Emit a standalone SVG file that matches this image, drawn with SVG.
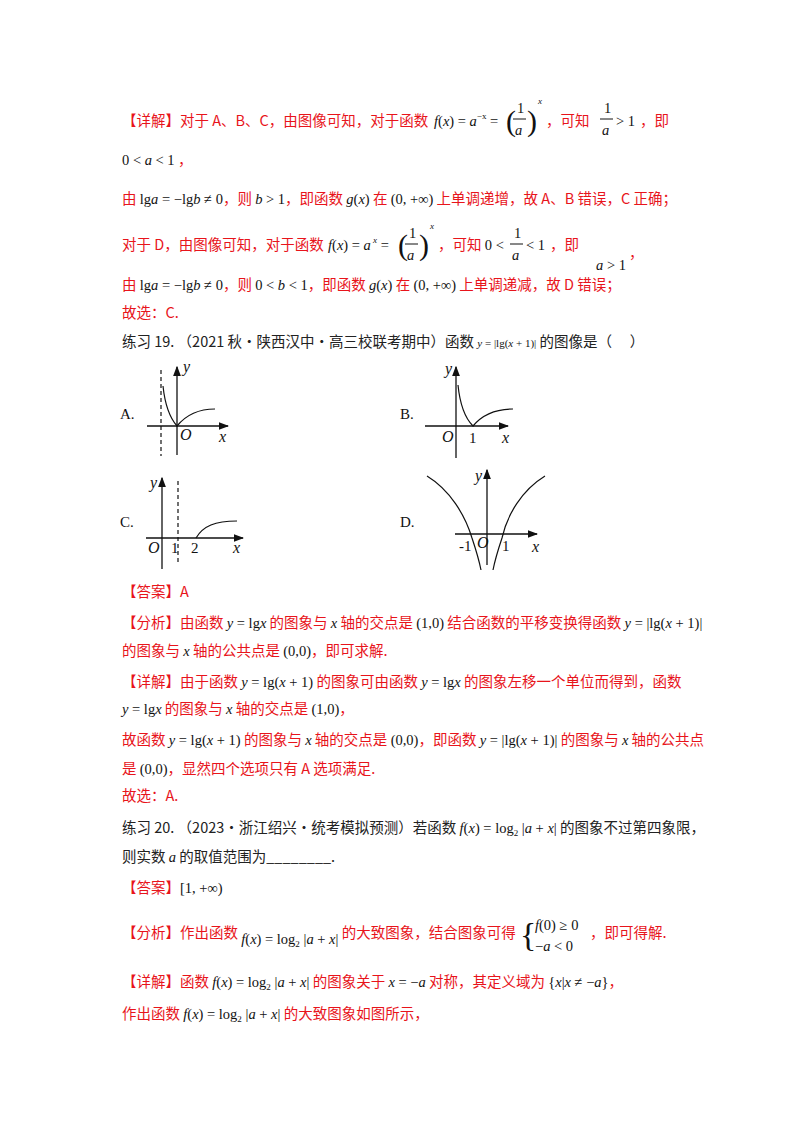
<svg xmlns="http://www.w3.org/2000/svg" width="800" height="1132" viewBox="0 0 800 1132">
<style>
.t{font-family:"Noto Sans CJK SC","Liberation Serif",serif;font-size:14.5px}
.r{fill:#e8141b}
.k{fill:#222}
.m{font-family:"Liberation Serif",serif;font-style:italic;fill:#111}
.n{font-family:"Liberation Serif",serif;font-style:normal;fill:#111}
.g{font-family:"Liberation Serif",serif;font-size:15px;fill:#111}
.gi{font-family:"Liberation Serif",serif;font-style:italic;font-size:16px;fill:#111}
.ax{stroke:#111;stroke-width:1.3;fill:none}
.cv{stroke:#111;stroke-width:1.2;fill:none}
.ds{stroke:#111;stroke-width:1.2;stroke-dasharray:4,3}
</style>
<defs><marker id="ar" markerWidth="8" markerHeight="6" refX="7" refY="3" orient="auto"><path d="M0,0L8,3L0,6z" fill="#111"/></marker></defs>
<rect width="800" height="1132" fill="#fff"/>
<g class="t">
<text x="122" y="126" class="r">【详解】对于 A、B、C，由图像可知，对于函数</text>
<text x="434" y="126" class="m">f<tspan class="n">(</tspan>x<tspan class="n">) = </tspan>a<tspan class="n" dy="-7" font-size="9">−x</tspan><tspan class="n" dy="7"> =</tspan></text>
<text x="506" y="131" class="n" font-size="30" font-weight="100">(</text>
<text x="517" y="113" class="n">1</text><text x="515" y="135" class="m">a</text><line x1="513" y1="119" x2="526" y2="119" stroke="#111"/>
<text x="527" y="131" class="n" font-size="30" font-weight="100">)</text>
<text x="538" y="104" class="m" font-size="9">x</text>
<text x="546" y="126" class="r">，可知</text>
<text x="604" y="113" class="n">1</text><text x="602" y="135" class="m">a</text><line x1="600" y1="119" x2="613" y2="119" stroke="#111"/>
<text x="616" y="126" class="n">&gt; 1</text><text x="640" y="126" class="r">，即</text>
<text x="122" y="165" class="n">0 &lt; <tspan class="m">a</tspan> &lt; 1</text><text x="178" y="165" class="r">，</text>
<text x="122" y="204" class="r">由 <tspan class="n">lg</tspan><tspan class="m">a</tspan><tspan class="n"> = −lg</tspan><tspan class="m">b</tspan><tspan class="n"> ≠ 0</tspan>，则 <tspan class="m">b</tspan><tspan class="n"> &gt; 1</tspan>，即函数 <tspan class="m">g</tspan><tspan class="n">(</tspan><tspan class="m">x</tspan><tspan class="n">)</tspan> 在 <tspan class="n">(0, +∞)</tspan> 上单调递增，故 A、B 错误，C 正确；</text>
<text x="122" y="250" class="r">对于 D，由图像可知，对于函数</text>
<text x="328" y="250" class="m">f<tspan class="n">(</tspan>x<tspan class="n">) = </tspan>a<tspan class="m" dy="-7" font-size="9"> x</tspan><tspan class="n" dy="7"> =</tspan></text>
<text x="398" y="255" class="n" font-size="30" font-weight="100">(</text>
<text x="409" y="238" class="n">1</text><text x="407" y="260" class="m">a</text><line x1="405" y1="244" x2="418" y2="244" stroke="#111"/>
<text x="419" y="255" class="n" font-size="30" font-weight="100">)</text>
<text x="430" y="229" class="m" font-size="9">x</text>
<text x="438" y="250" class="r">，可知 <tspan class="n">0 &lt;</tspan></text>
<text x="514" y="238" class="n">1</text><text x="512" y="260" class="m">a</text><line x1="510" y1="244" x2="523" y2="244" stroke="#111"/>
<text x="526" y="250" class="n">&lt; 1</text><text x="550" y="250" class="r">，即</text>
<text x="596" y="270" class="m">a <tspan class="n">&gt; 1</tspan></text><text x="629" y="258" class="r">，</text>
<text x="122" y="290" class="r">由 <tspan class="n">lg</tspan><tspan class="m">a</tspan><tspan class="n"> = −lg</tspan><tspan class="m">b</tspan><tspan class="n"> ≠ 0</tspan>，则 <tspan class="n">0 &lt; </tspan><tspan class="m">b</tspan><tspan class="n"> &lt; 1</tspan>，即函数 <tspan class="m">g</tspan><tspan class="n">(</tspan><tspan class="m">x</tspan><tspan class="n">)</tspan> 在 <tspan class="n">(0, +∞)</tspan> 上单调递减，故 D 错误；</text>
<text x="122" y="318" class="r">故选：C.</text>
<text x="122" y="347" class="k">练习 19. （2021 秋·陕西汉中·高三校联考期中）函数 <tspan class="m" font-size="11">y</tspan><tspan class="n" font-size="11"> = |lg(</tspan><tspan class="m" font-size="11">x</tspan><tspan class="n" font-size="11"> + 1)|</tspan> 的图像是（　 ）</text>
</g>
<g id="graphA">
<line class="ax" x1="147" y1="426" x2="228" y2="426" marker-end="url(#ar)"/>
<line class="ax" x1="177" y1="455" x2="177" y2="367" marker-end="url(#ar)"/>
<line class="ds" x1="161" y1="370" x2="161" y2="456"/>
<path class="cv" d="M163,386 C165,405 170,418 177,426 C186,415 198,409 215,409"/>
<text x="120" y="419" class="g">A.</text><text x="180" y="440" class="gi">O</text><text x="219" y="442" class="gi">x</text><text x="183" y="372" class="gi">y</text>
</g>
<g id="graphB">
<line class="ax" x1="425" y1="426" x2="508" y2="426" marker-end="url(#ar)"/>
<line class="ax" x1="456" y1="458" x2="456" y2="367" marker-end="url(#ar)"/>
<path class="cv" d="M458,385 C460,405 465,418 473,426 C482,415 495,409 513,409"/>
<text x="400" y="419" class="g">B.</text><text x="442" y="442" class="gi">O</text><text x="469" y="443" class="g">1</text><text x="502" y="443" class="gi">x</text><text x="445" y="374" class="gi">y</text>
</g>
<g id="graphC">
<line class="ax" x1="146" y1="538" x2="243" y2="538" marker-end="url(#ar)"/>
<line class="ax" x1="162" y1="569" x2="162" y2="478" marker-end="url(#ar)"/>
<line class="ds" x1="178" y1="481" x2="178" y2="563"/>
<path class="cv" d="M196,538 C203,526 215,521 237,521"/>
<text x="120" y="527" class="g">C.</text><text x="148" y="553" class="gi">O</text><text x="171" y="553" class="g">1</text><text x="191" y="553" class="g">2</text><text x="233" y="553" class="gi">x</text><text x="150" y="488" class="gi">y</text>
</g>
<g id="graphD">
<line class="ax" x1="455" y1="534" x2="537" y2="534" marker-end="url(#ar)"/>
<line class="ax" x1="487" y1="565" x2="487" y2="470" marker-end="url(#ar)"/>
<path class="cv" d="M427,476 C450,490 465,515 472,538 C476,550 479,560 481,570"/>
<path class="cv" d="M545,476 C522,490 507,515 502,538 C498,550 495,560 493,570"/>
<text x="400" y="527" class="g">D.</text><text x="459" y="551" class="g">-1</text><text x="477" y="548" class="gi">O</text><text x="502" y="551" class="g">1</text><text x="532" y="552" class="gi">x</text><text x="475" y="481" class="gi">y</text>
</g>
<g class="t">
<text x="122" y="597" class="r">【答案】A</text>
<text x="122" y="628" class="r">【分析】由函数 <tspan class="m">y</tspan><tspan class="n"> = lg</tspan><tspan class="m">x</tspan> 的图象与 <tspan class="m">x</tspan> 轴的交点是 <tspan class="n">(1,0)</tspan> 结合函数的平移变换得函数 <tspan class="m">y</tspan><tspan class="n"> = |lg(</tspan><tspan class="m">x</tspan><tspan class="n"> + 1)|</tspan></text>
<text x="122" y="656" class="r">的图象与 <tspan class="m">x</tspan> 轴的公共点是 <tspan class="n">(0,0)</tspan>，即可求解.</text>
<text x="122" y="687" class="r">【详解】由于函数 <tspan class="m">y</tspan><tspan class="n"> = lg(</tspan><tspan class="m">x</tspan><tspan class="n"> + 1)</tspan> 的图象可由函数 <tspan class="m">y</tspan><tspan class="n"> = lg</tspan><tspan class="m">x</tspan> 的图象左移一个单位而得到，函数</text>
<text x="122" y="714" class="r"><tspan class="m">y</tspan><tspan class="n"> = lg</tspan><tspan class="m">x</tspan> 的图象与 <tspan class="m">x</tspan> 轴的交点是 <tspan class="n">(1,0)</tspan>，</text>
<text x="122" y="745" class="r">故函数 <tspan class="m">y</tspan><tspan class="n"> = lg(</tspan><tspan class="m">x</tspan><tspan class="n"> + 1)</tspan> 的图象与 <tspan class="m">x</tspan> 轴的交点是 <tspan class="n">(0,0)</tspan>，即函数 <tspan class="m">y</tspan><tspan class="n"> = |lg(</tspan><tspan class="m">x</tspan><tspan class="n"> + 1)|</tspan> 的图象与 <tspan class="m">x</tspan> 轴的公共点</text>
<text x="122" y="774" class="r">是 <tspan class="n">(0,0)</tspan>，显然四个选项只有 A 选项满足.</text>
<text x="122" y="801" class="r">故选：A.</text>
<text x="122" y="833" class="k">练习 20. （2023·浙江绍兴·统考模拟预测）若函数 <tspan class="m">f</tspan><tspan class="n">(</tspan><tspan class="m">x</tspan><tspan class="n">) = log</tspan><tspan class="n" font-size="9" dy="3">2</tspan><tspan class="n" dy="-3"> |</tspan><tspan class="m">a</tspan><tspan class="n"> + </tspan><tspan class="m">x</tspan><tspan class="n">|</tspan> 的图象不过第四象限，</text>
<text x="122" y="862" class="k">则实数 <tspan class="m">a</tspan> 的取值范围为________.</text>
<text x="122" y="893" class="r">【答案】<tspan class="n">[1, +∞)</tspan></text>
<text x="122" y="938" class="r">【分析】作出函数 <tspan class="m" dy="6">f</tspan><tspan class="n">(</tspan><tspan class="m">x</tspan><tspan class="n">) = log</tspan><tspan class="n" font-size="9" dy="3">2</tspan><tspan class="n" dy="-3"> |</tspan><tspan class="m">a</tspan><tspan class="n"> + </tspan><tspan class="m">x</tspan><tspan class="n">|</tspan><tspan dy="-6"> 的大致图象，结合图象可得</tspan></text>
<text x="520" y="946" class="n" font-size="34" font-weight="100">{</text>
<text x="535" y="930" class="m">f<tspan class="n">(0) ≥ 0</tspan></text>
<text x="535" y="951" class="n">−<tspan class="m">a</tspan> &lt; 0</text>
<text x="590" y="938" class="r">，即可得解.</text>
<text x="122" y="987" class="r">【详解】函数 <tspan class="m">f</tspan><tspan class="n">(</tspan><tspan class="m">x</tspan><tspan class="n">) = log</tspan><tspan class="n" font-size="9" dy="3">2</tspan><tspan class="n" dy="-3"> |</tspan><tspan class="m">a</tspan><tspan class="n"> + </tspan><tspan class="m">x</tspan><tspan class="n">|</tspan> 的图象关于 <tspan class="m">x</tspan><tspan class="n"> = −</tspan><tspan class="m">a</tspan> 对称，其定义域为 <tspan class="n">{</tspan><tspan class="m">x</tspan><tspan class="n">|</tspan><tspan class="m">x</tspan><tspan class="n"> ≠ −</tspan><tspan class="m">a</tspan><tspan class="n">}</tspan>，</text>
<text x="122" y="1019" class="r">作出函数 <tspan class="m">f</tspan><tspan class="n">(</tspan><tspan class="m">x</tspan><tspan class="n">) = log</tspan><tspan class="n" font-size="9" dy="3">2</tspan><tspan class="n" dy="-3"> |</tspan><tspan class="m">a</tspan><tspan class="n"> + </tspan><tspan class="m">x</tspan><tspan class="n">|</tspan> 的大致图象如图所示，</text>
</g>
</svg>
